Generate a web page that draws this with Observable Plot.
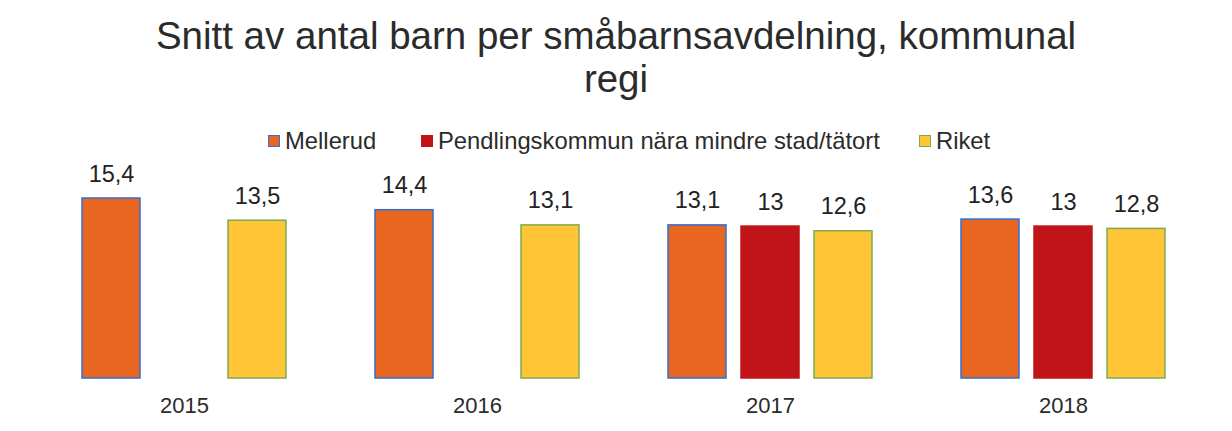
<!DOCTYPE html>
<html>
<head>
<meta charset="utf-8">
<script src="https://cdn.jsdelivr.net/npm/d3@7"></script>
<script src="https://cdn.jsdelivr.net/npm/@observablehq/plot@0.6"></script>
<style>
  html, body { margin: 0; padding: 0; background: #fff; }
  body { width: 1232px; height: 431px; position: relative; overflow: hidden; font-family: "Liberation Sans", Arial, sans-serif; }
  #title { position: absolute; left: 0; top: 14px; width: 1232px; text-align: center; font-size: 38.5px; line-height: 43px; color: #2b2b2b; }
  #legend { position: absolute; left: 0; top: 129px; width: 1232px; height: 24px; }
  .item { position: absolute; top: 0; font-size: 23.8px; line-height: 24px; color: #2b2b2b; white-space: nowrap; }
  .sw { display: inline-block; width: 12px; height: 12px; margin-right: 5px; vertical-align: 2px; box-sizing: border-box; }
  #chart { position: absolute; left: 0; top: 155px; }
</style>
</head>
<body>
<div id="title">Snitt av antal barn per småbarnsavdelning, kommunal<br>regi</div>
<div id="legend"></div>
<div id="chart"></div>
<script>
const years = ["2015", "2016", "2017", "2018"];
const seriesNames = ["Mellerud", "Pendlingskommun nära mindre stad/tätort", "Riket"];
const mellerud = [15.4, 14.4, 13.1, 13.6];
const pendling = [null, null, 13, 13];
const riket = [13.5, 13.1, 12.6, 12.8];
const fills = ["#E8661F", "#C01418", "#FFC536"];
const strokes = ["#2F6FD6", "#C01418", "#7BAA52"];
const legendX = [268, 421, 919];

const seriesValues = [mellerud, pendling, riket];
const rows = [];
years.forEach((y, i) => {
  seriesNames.forEach((s, j) => {
    const v = seriesValues[j][i];
    if (v != null) rows.push({year: y, series: s, value: v});
  });
});

const fmt = v => String(v).replace(".", ",");

const chart = Plot.plot({
  width: 1232,
  height: 276,
  marginLeft: 38,
  marginRight: 22,
  marginTop: 36,
  marginBottom: 53,
  style: {fontFamily: "Liberation Sans, Arial, sans-serif", fontSize: "22px", color: "#2b2b2b", background: "transparent"},
  fx: {domain: years, paddingInner: 0.2, paddingOuter: 0.1, label: null, axis: "bottom", tickSize: 0, tickPadding: 19},
  x: {domain: seriesNames, padding: 0.2, axis: null},
  y: {domain: [0, 16], axis: null},
  color: {domain: seriesNames, range: fills},
  marks: [
    Plot.barY(rows, {fx: "year", x: "series", y: "value", fill: "series",
      stroke: d => strokes[seriesNames.indexOf(d.series)], strokeWidth: 1.5}),
    Plot.text(rows, {fx: "year", x: "series", y: "value", text: d => fmt(d.value),
      lineAnchor: "bottom", dy: -17, fontSize: 23.5, fill: "#222"})
  ]
});
document.getElementById("chart").appendChild(chart);

const legend = document.getElementById("legend");
seriesNames.forEach((s, j) => {
  const it = document.createElement("div");
  it.className = "item";
  it.style.left = legendX[j] + "px";
  const sw = document.createElement("span");
  sw.className = "sw";
  sw.style.background = fills[j];
  sw.style.border = "1.5px solid " + strokes[j];
  it.appendChild(sw);
  it.appendChild(document.createTextNode(s));
  legend.appendChild(it);
});
</script>
</body>
</html>
